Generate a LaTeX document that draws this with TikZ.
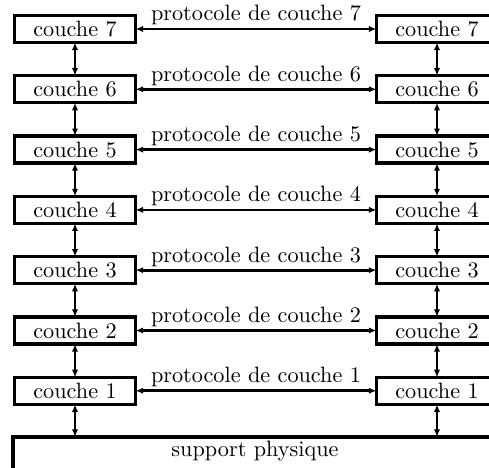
\documentclass[tikz,border=0pt]{standalone}
\usetikzlibrary{arrows.meta}
\begin{document}
\begin{tikzpicture}[x=0.45pt,y=-0.45pt,
  box/.style={draw,line width=1.45pt,minimum width=54.45pt,minimum height=12.15pt,inner sep=0pt,outer sep=0pt},
  link/.style={line width=1.2pt,{Latex[length=3.4pt,width=2.8pt]}-{Latex[length=3.4pt,width=2.8pt]}},
  lbl/.style={midway,anchor=base,yshift=3.6pt,inner sep=0pt}]
\useasboundingbox (0,0) rectangle (489,468);
\foreach \k in {1,...,7} {
  \pgfmathsetmacro\yy{29+60.3*(7-\k)}
  \node[box] (l\k) at (75,\yy) {couche \k};
  \node[box] (r\k) at (437,\yy) {couche \k};
  \draw[link] (l\k) -- node[lbl] (p\k) {protocole de couche \k} (r\k);
}
\foreach \k/\j in {7/6,6/5,5/4,4/3,3/2,2/1} {
  \draw[link] (l\k) -- (l\j);
  \draw[link] (r\k) -- (r\j);
}
\coordinate (st) at (13,437);
\coordinate (se) at (510,437);
\coordinate (sb) at (13,490);
\draw[line width=1.45pt] (se) -- (st) -- (sb);
\node[anchor=base,inner sep=0pt] (sup) at (255,457) {support physique};
\draw[link] (l1) -- (l1 |- st);
\draw[link] (r1) -- (r1 |- st);
\end{tikzpicture}
\end{document}
